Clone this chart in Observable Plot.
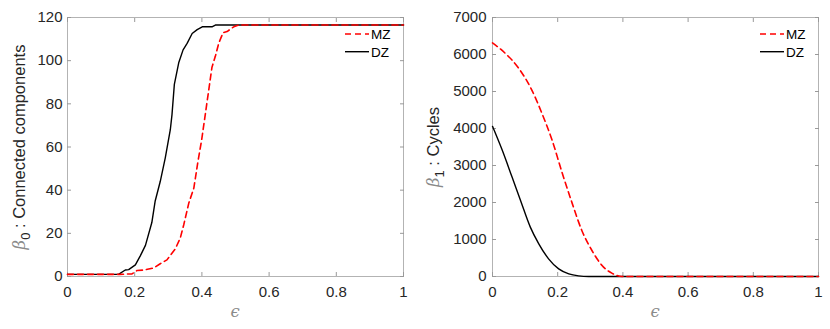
<!DOCTYPE html>
<html><head><meta charset="utf-8">
<script src="https://cdn.jsdelivr.net/npm/d3@7"></script>
<script src="https://cdn.jsdelivr.net/npm/@observablehq/plot@0.6"></script>
<style>
body{margin:0;background:#fff;}
#wrap{display:flex;width:830px;height:329px;}
</style></head><body><div id="wrap"></div>
<script>
// ---- data ----
const xTicks = [0, 0.2, 0.4, 0.6, 0.8, 1];
const b0Ticks = [0, 20, 40, 60, 80, 100, 120];
const b1Ticks = [0, 1000, 2000, 3000, 4000, 5000, 6000, 7000];
const seriesNames = ["MZ", "DZ"];

const b0_DZ_eps = [0, 0.152, 0.172, 0.182, 0.202, 0.217, 0.232, 0.251, 0.261, 0.276, 0.291, 0.306, 0.311, 0.318, 0.331, 0.344, 0.356, 0.371, 0.386, 0.401, 0.43, 0.44, 1];
const b0_DZ_val = [1, 1, 3, 3.2, 5.4, 9.7, 14.4, 25, 35, 44, 55, 68, 75, 89, 99, 105, 108, 112.6, 114.4, 115.7, 115.7, 116.5, 116.5];

const b0_MZ_eps = [0, 0.155, 0.192, 0.207, 0.227, 0.256, 0.276, 0.296, 0.321, 0.336, 0.346, 0.361, 0.376, 0.389, 0.399, 0.41, 0.42, 0.43, 0.44, 0.45, 0.463, 0.475, 0.495, 0.51, 1];
const b0_MZ_val = [1, 1, 1.2, 2.8, 3, 3.9, 5.9, 7.7, 12.8, 18, 24, 34, 41, 54, 63, 75, 86, 97, 102, 108, 113, 113.5, 115.7, 116.5, 116.5];

const b1_MZ_eps = [0, 0.04, 0.081, 0.121, 0.152, 0.183, 0.213, 0.244, 0.274, 0.305, 0.336, 0.366, 0.397, 0.45, 1];
const b1_MZ_val = [6313, 6025, 5620, 5032, 4402, 3680, 2820, 1990, 1245, 703, 298, 90, 0, 0, 0];

const b1_DZ_eps = [0, 0.03, 0.06, 0.086, 0.116, 0.142, 0.172, 0.203, 0.234, 0.264, 0.295, 0.35, 1];
const b1_DZ_val = [4058, 3409, 2687, 2056, 1335, 884, 478, 207, 72, 18, 0, 0, 0];

// ---- build ----
const zip = (xs, ys, s) => xs.map((x, i) => ({eps: x, v: ys[i], s}));
const colors = {MZ: "#ff0000", DZ: "#000000"};
const dashes = {MZ: "6,4", DZ: null};

function makePanel({yDomain, yTicks, mz, dz, marginLeft, tickPadY, labelMain, labelSub, labelX, curve}) {
  const svg = Plot.plot({
    width: 415, height: 329,
    marginLeft, marginRight: 12, marginTop: 17, marginBottom: 53,
    style: {fontFamily: "'Liberation Sans', Arial, Helvetica, sans-serif", fontSize: "15px", color: "#262626", background: "white", overflow: "visible"},
    x: {domain: [0, 1], label: null},
    y: {domain: yDomain, label: null},
    marks: [
      Plot.frame({stroke: "#b3b3b3"}),
      Plot.axisX(xTicks, {anchor: "bottom", tickSize: -4, tickPadding: 14, stroke: "#999", tickFormat: d => String(d), label: null}),
      Plot.axisX(xTicks, {anchor: "top", tickSize: -4, stroke: "#999", tickFormat: () => "", label: null}),
      Plot.axisY(yTicks, {anchor: "left", tickSize: -4, tickPadding: tickPadY, stroke: "#999", tickFormat: d => String(d), label: null}),
      Plot.axisY(yTicks, {anchor: "right", tickSize: -4, stroke: "#999", tickFormat: () => "", label: null}),
      Plot.line(dz, {x: "eps", y: "v", stroke: colors.DZ, strokeWidth: 1.4, curve}),
      Plot.line(mz, {x: "eps", y: "v", stroke: colors.MZ, strokeWidth: 1.6, strokeDasharray: dashes.MZ, curve})
    ]
  });
  const s = d3.select(svg);
  // y label
  const t = s.append("text")
    .attr("transform", `translate(${labelX},147) rotate(-90)`)
    .attr("text-anchor", "middle")
    .style("font-size", "16.5px")
    .attr("fill", "#262626");
  t.append("tspan").text("β").style("font-family", "'DejaVu Serif', 'Liberation Serif', serif").style("font-style", "italic").attr("fill", "#8a8a8a");
  t.append("tspan").text(labelSub).attr("dy", 5).style("font-size", "13px");
  t.append("tspan").text(" : " + labelMain).attr("dy", -5);
  // x label
  s.append("text")
    .attr("x", marginLeft + (415 - 12 - marginLeft) / 2)
    .attr("y", 317)
    .attr("text-anchor", "middle")
    .style("font-family", "'DejaVu Serif', 'Liberation Serif', serif")
    .style("font-style", "italic")
    .style("font-size", "16.5px")
    .attr("fill", "#8a8a8a")
    .text("ϵ");
  // legend
  const lg = s.append("g");
  seriesNames.forEach((name, i) => {
    const y = 34 + i * 17.7;
    lg.append("line").attr("x1", 345).attr("x2", 369).attr("y1", y).attr("y2", y)
      .attr("stroke", colors[name]).attr("stroke-width", name === "MZ" ? 1.6 : 1.4)
      .attr("stroke-dasharray", dashes[name]);
    lg.append("text").attr("x", 371).attr("y", y + 5)
      .attr("text-anchor", "start")
      .style("font-size", "13.5px")
      .attr("fill", "#000").text(name);
  });
  return svg;
}

const wrap = document.getElementById("wrap");
wrap.append(makePanel({
  yDomain: [0, 120], yTicks: b0Ticks,
  mz: zip(b0_MZ_eps, b0_MZ_val, "MZ"), dz: zip(b0_DZ_eps, b0_DZ_val, "DZ"),
  marginLeft: 67, tickPadY: 9, labelMain: "Connected components", labelSub: "0", labelX: 25, curve: "linear"
}));
wrap.append(makePanel({
  yDomain: [0, 7000], yTicks: b1Ticks,
  mz: zip(b1_MZ_eps, b1_MZ_val, "MZ"), dz: zip(b1_DZ_eps, b1_DZ_val, "DZ"),
  marginLeft: 77, tickPadY: 10, labelMain: "Cycles", labelSub: "1", labelX: 24, curve: "monotone-x"
}));
</script></body></html>
